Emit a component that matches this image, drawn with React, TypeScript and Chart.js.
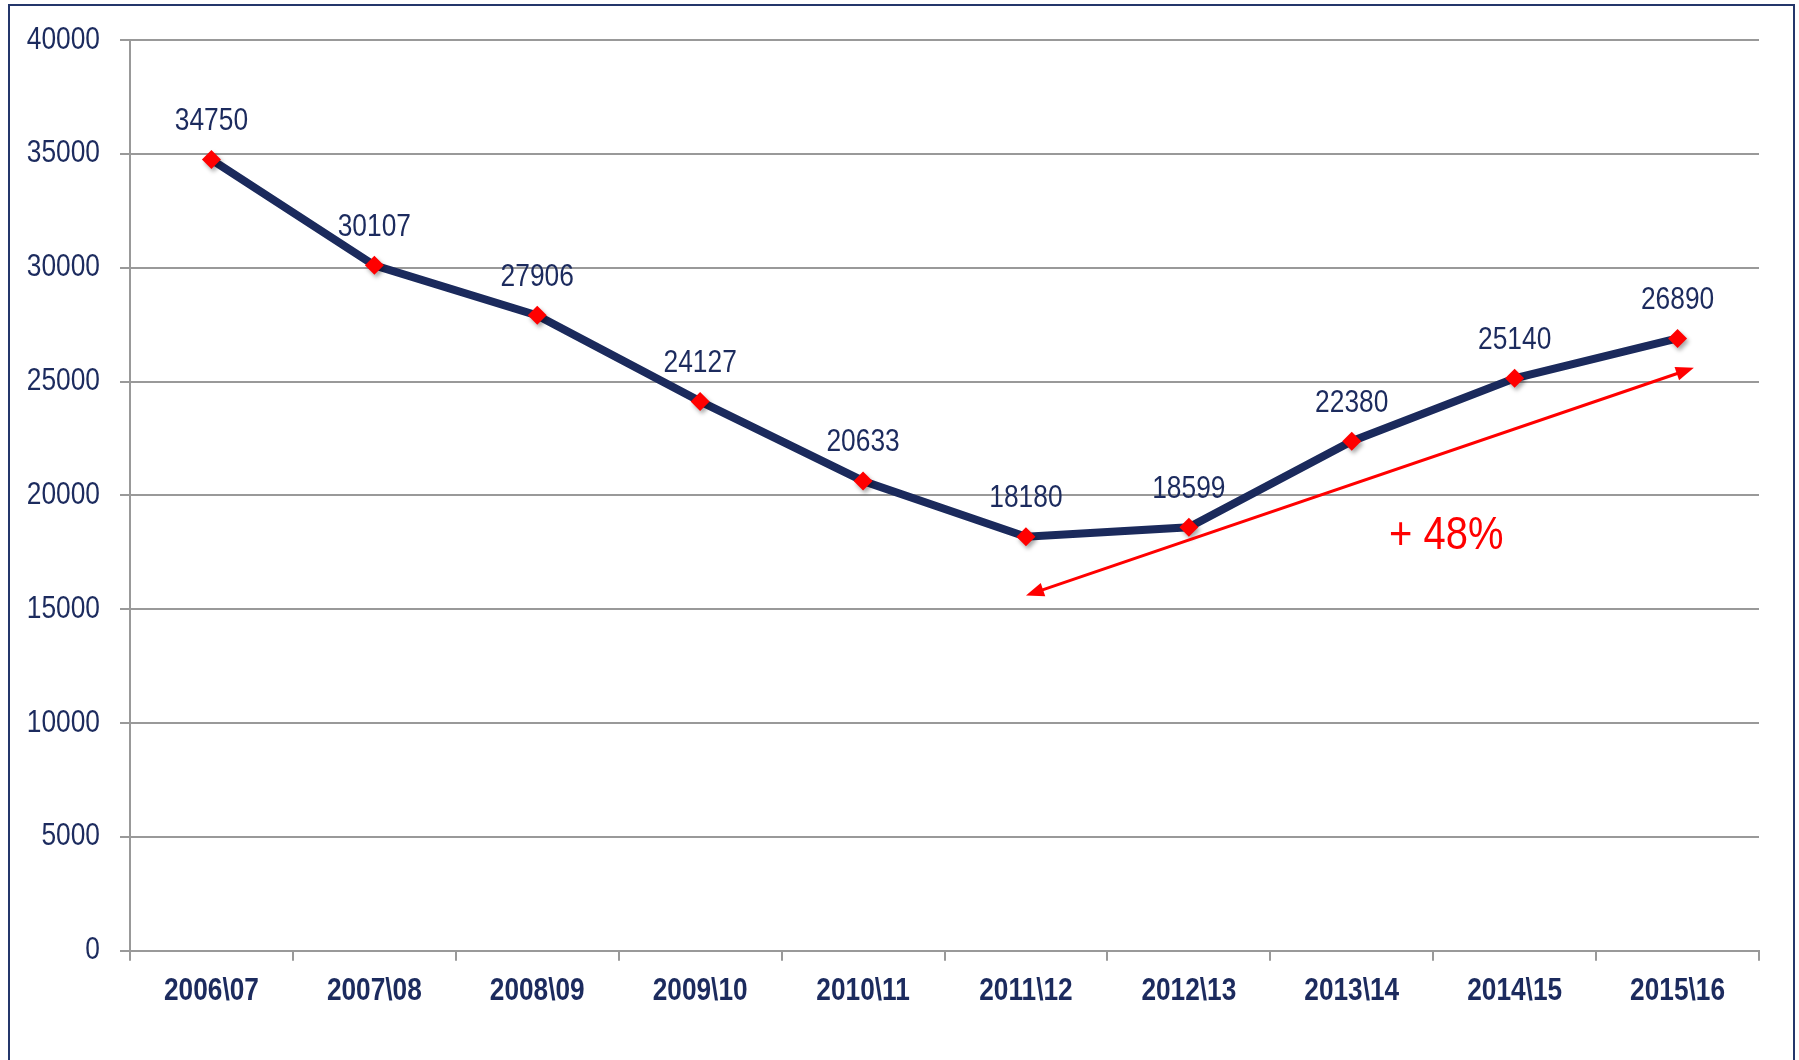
import React, { useEffect, useRef } from 'react';
import { Chart, registerables } from 'chart.js';

Chart.register(...registerables);

const CATEGORIES = ['2006\\07', '2007\\08', '2008\\09', '2009\\10', '2010\\11', '2011\\12', '2012\\13', '2013\\14', '2014\\15', '2015\\16'];
const VALUES = [34750, 30107, 27906, 24127, 20633, 18180, 18599, 22380, 25140, 26890];
const Y_TICKS = [0, 5000, 10000, 15000, 20000, 25000, 30000, 35000, 40000];
// arrow annotation in data units: [category index, value]
const ARROW_START = [5.0, 15600];
const ARROW_END = [9.1, 25600];
const GROWTH_LABEL = '+ 48%';
const GROWTH_LABEL_POS = [7.58, 18200];

const NAVY = '#1b2a5c';
const TEXT = '#1c2b5e';
const RED = '#ff0000';
const GRID = '#999999';
const FONT = "'Liberation Sans', Arial, sans-serif";
const NARROW_BOLD = 0.82;
const NARROW = 0.85;

export default function App() {
  const ref = useRef<HTMLCanvasElement | null>(null);

  useEffect(() => {
    if (!ref.current) return;

    const narrowText = (ctx: any, text: string, x: number, y: number, align: string, font: string, color: string, sx: number) => {
      ctx.save();
      ctx.translate(x, y);
      ctx.scale(sx, 1);
      ctx.font = font;
      ctx.fillStyle = color;
      ctx.textAlign = align;
      ctx.textBaseline = 'middle';
      ctx.fillText(text, 0, 0);
      ctx.restore();
    };

    const pointShadow = {
      id: 'pointShadow',
      beforeDatasetDraw(chart: any, args: any) {
        if (args.index === 1) {
          const ctx = chart.ctx;
          ctx.save();
          ctx.shadowColor = 'rgba(0,0,0,0.35)';
          ctx.shadowBlur = 4;
          ctx.shadowOffsetX = 2;
          ctx.shadowOffsetY = 3;
        }
      },
      afterDatasetDraw(chart: any, args: any) {
        if (args.index === 1) chart.ctx.restore();
      },
    };

    const annotations = {
      id: 'annotations',
      afterDraw(chart: any) {
        const ctx = chart.ctx;
        const xs = chart.scales.x;
        const ys = chart.scales.y;

        // axis tick labels (condensed)
        Y_TICKS.forEach((v) => {
          narrowText(ctx, String(v), 100, ys.getPixelForValue(v), 'right', `31px ${FONT}`, TEXT, NARROW);
        });
        CATEGORIES.forEach((c, i) => {
          narrowText(ctx, c, xs.getPixelForValue(i), 991, 'center', `bold 32px ${FONT}`, TEXT, NARROW_BOLD);
        });

        // data labels
        const meta = chart.getDatasetMeta(0);
        meta.data.forEach((pt: any, i: number) => {
          narrowText(ctx, String(VALUES[i]), pt.x, pt.y - 38, 'center', `31px ${FONT}`, TEXT, NARROW);
        });

        // double-headed arrow
        const x1 = xs.getPixelForValue(ARROW_START[0]);
        const y1 = ys.getPixelForValue(ARROW_START[1]);
        const x2 = xs.getPixelForValue(ARROW_END[0]);
        const y2 = ys.getPixelForValue(ARROW_END[1]);
        const ang = Math.atan2(y2 - y1, x2 - x1);
        const headLen = 18;
        const headW = 7;
        ctx.save();
        ctx.strokeStyle = RED;
        ctx.fillStyle = RED;
        ctx.lineWidth = 3;
        ctx.beginPath();
        ctx.moveTo(x1 + Math.cos(ang) * headLen * 0.8, y1 + Math.sin(ang) * headLen * 0.8);
        ctx.lineTo(x2 - Math.cos(ang) * headLen * 0.8, y2 - Math.sin(ang) * headLen * 0.8);
        ctx.stroke();
        const head = (tx: number, ty: number, dir: number) => {
          const bx = tx - Math.cos(dir) * headLen;
          const by = ty - Math.sin(dir) * headLen;
          ctx.beginPath();
          ctx.moveTo(tx, ty);
          ctx.lineTo(bx + Math.cos(dir + Math.PI / 2) * headW, by + Math.sin(dir + Math.PI / 2) * headW);
          ctx.lineTo(bx - Math.cos(dir + Math.PI / 2) * headW, by - Math.sin(dir + Math.PI / 2) * headW);
          ctx.closePath();
          ctx.fill();
        };
        head(x2, y2, ang);
        head(x1, y1, ang + Math.PI);
        ctx.restore();

        // growth label
        narrowText(ctx, GROWTH_LABEL, xs.getPixelForValue(GROWTH_LABEL_POS[0]), ys.getPixelForValue(GROWTH_LABEL_POS[1]), 'center', `47px ${FONT}`, RED, NARROW);
      },
    };

    const chart = new Chart(ref.current, {
      type: 'line',
      data: {
        labels: CATEGORIES,
        datasets: [
          {
            data: VALUES,
            order: 2,
            borderColor: NAVY,
            borderWidth: 8,
            tension: 0,
            pointRadius: 0,
            pointHoverRadius: 0,
            fill: false,
          },
          {
            data: VALUES,
            order: 1,
            showLine: false,
            pointStyle: 'rectRot',
            pointRadius: 9.5,
            pointBackgroundColor: RED,
            pointBorderColor: RED,
            pointBorderWidth: 0,
            pointHoverRadius: 9.5,
          },
        ],
      },
      options: {
        animation: false,
        responsive: false,
        maintainAspectRatio: false,
        events: [],
        layout: { padding: { top: 40, right: 40, left: 0, bottom: 0 } },
        plugins: {
          legend: { display: false },
          tooltip: { enabled: false },
          title: { display: false },
        },
        scales: {
          x: {
            type: 'category',
            offset: true,
            grid: {
              offset: true,
              drawOnChartArea: false,
              drawTicks: true,
              tickLength: 10,
              color: GRID,
              lineWidth: 2,
            },
            border: { display: true, color: GRID, width: 2 },
            ticks: { display: false, autoSkip: false, maxRotation: 0 },
            afterFit(scale: any) {
              scale.height = 109.3;
            },
          },
          y: {
            min: Y_TICKS[0],
            max: Y_TICKS[Y_TICKS.length - 1],
            afterBuildTicks(scale: any) {
              scale.ticks = Y_TICKS.map((v) => ({ value: v }));
            },
            grid: {
              color: GRID,
              lineWidth: 2,
              drawTicks: true,
              tickLength: 10,
            },
            border: { display: true, color: GRID, width: 2 },
            ticks: { display: false },
            afterFit(scale: any) {
              scale.width = 130;
            },
          },
        },
      },
      plugins: [pointShadow, annotations],
    });

    return () => chart.destroy();
  }, []);

  return (
    <>
      <div style={{ position: 'absolute', left: 0, top: 0, width: 1799, height: 1060 }}>
        <canvas ref={ref} width={1799} height={1060} style={{ width: 1799, height: 1060, display: 'block' }} />
      </div>
      <div
        style={{
          position: 'absolute',
          left: 8,
          top: 4,
          width: 1787,
          height: 1056,
          boxSizing: 'border-box',
          borderTop: `2px solid #24366b`,
          borderLeft: `2px solid #24366b`,
          borderRight: `2px solid #24366b`,
          pointerEvents: 'none',
        }}
      />
    </>
  );
}
